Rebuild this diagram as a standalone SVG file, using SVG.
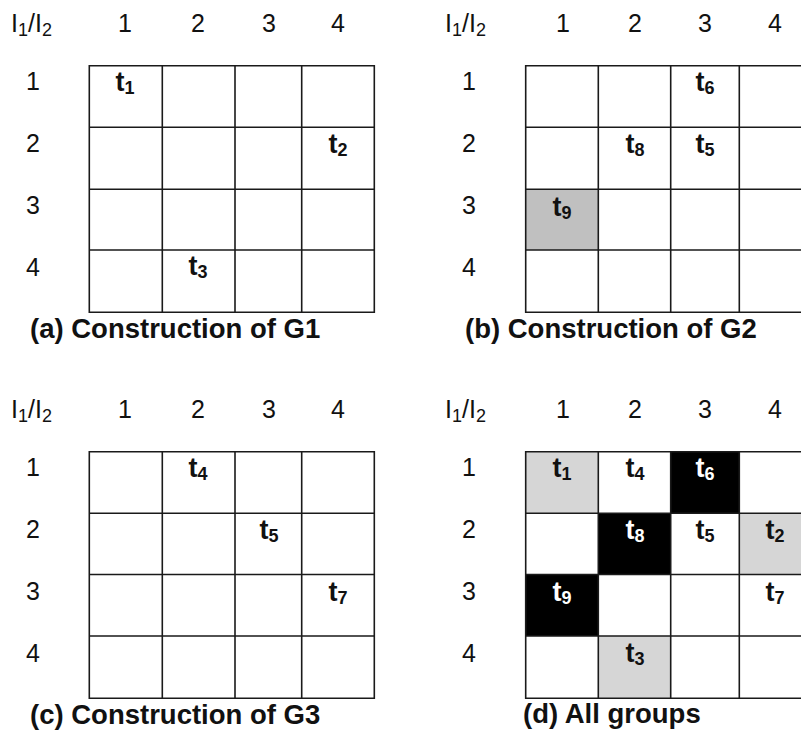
<svg xmlns="http://www.w3.org/2000/svg" width="801" height="733" viewBox="0 0 801 733">
<style>
.lab{font-family:"Liberation Sans",Arial,sans-serif;font-size:25px;fill:#111;text-anchor:middle}
.hd{font-family:"Liberation Sans",Arial,sans-serif;font-size:25px;fill:#111}
.sub{font-size:18px}
.t{font-family:"Liberation Sans",Arial,sans-serif;font-size:27px;font-weight:bold;fill:#111;text-anchor:middle}
.tw{font-family:"Liberation Sans",Arial,sans-serif;font-size:27px;font-weight:bold;fill:#fff;text-anchor:middle}
.ts{font-size:18px}
.cap{font-family:"Liberation Sans",Arial,sans-serif;font-size:27.5px;font-weight:bold;fill:#111}
.grid{fill:none;stroke:#1a1a1a;stroke-width:1.6}
</style>
<rect width="801" height="733" fill="#fff"/>

<g id="panel-a">
  <text class="hd" x="11" y="32">I<tspan class="sub" dy="4">1</tspan><tspan dy="-4">/I</tspan><tspan class="sub" dy="4">2</tspan></text>
  <text class="lab" x="125" y="32">1</text><text class="lab" x="198" y="32">2</text><text class="lab" x="269" y="32">3</text><text class="lab" x="338" y="32">4</text>
  <text class="lab" x="33" y="90">1</text><text class="lab" x="33" y="152">2</text><text class="lab" x="33" y="214">3</text><text class="lab" x="33" y="276">4</text>
  <path class="grid" d="M89.3 65.7H374.3V312.3H89.3Z M162.3 65.7V312.3 M235 65.7V312.3 M301.7 65.7V312.3 M89.3 127.3H374.3 M89.3 189.3H374.3 M89.3 250H374.3"/>
  <text class="t" x="125" y="91">t<tspan class="ts" dy="3">1</tspan></text>
  <text class="t" x="338" y="153">t<tspan class="ts" dy="3">2</tspan></text>
  <text class="t" x="198" y="275">t<tspan class="ts" dy="3">3</tspan></text>
  <text class="cap" x="30" y="338">(a) Construction of G1</text>
</g>

<g id="panel-b">
  <text class="hd" x="445" y="32">I<tspan class="sub" dy="4">1</tspan><tspan dy="-4">/I</tspan><tspan class="sub" dy="4">2</tspan></text>
  <text class="lab" x="563" y="32">1</text><text class="lab" x="635" y="32">2</text><text class="lab" x="705" y="32">3</text><text class="lab" x="775" y="32">4</text>
  <text class="lab" x="469" y="90">1</text><text class="lab" x="469" y="152">2</text><text class="lab" x="469" y="214">3</text><text class="lab" x="469" y="276">4</text>
  <rect x="525.7" y="189.3" width="72.6" height="60.7" fill="#c0c0c0"/>
  <path class="grid" d="M812 65.7H525.7V312.3H812 M598.3 65.7V312.3 M670.7 65.7V312.3 M739.3 65.7V312.3 M525.7 127.3H812 M525.7 189.3H812 M525.7 250H812"/>
  <text class="t" x="705" y="91">t<tspan class="ts" dy="3">6</tspan></text>
  <text class="t" x="635" y="153">t<tspan class="ts" dy="3">8</tspan></text>
  <text class="t" x="705" y="153">t<tspan class="ts" dy="3">5</tspan></text>
  <text class="t" x="562" y="216">t<tspan class="ts" dy="3">9</tspan></text>
  <text class="cap" x="465" y="338">(b) Construction of G2</text>
</g>

<g id="panel-c">
  <text class="hd" x="11" y="418">I<tspan class="sub" dy="4">1</tspan><tspan dy="-4">/I</tspan><tspan class="sub" dy="4">2</tspan></text>
  <text class="lab" x="125" y="418">1</text><text class="lab" x="198" y="418">2</text><text class="lab" x="269" y="418">3</text><text class="lab" x="338" y="418">4</text>
  <text class="lab" x="33" y="476">1</text><text class="lab" x="33" y="538">2</text><text class="lab" x="33" y="600">3</text><text class="lab" x="33" y="662">4</text>
  <path class="grid" d="M89.3 451.7H374.3V698.3H89.3Z M162.3 451.7V698.3 M235 451.7V698.3 M301.7 451.7V698.3 M89.3 513.3H374.3 M89.3 574.5H374.3 M89.3 636H374.3"/>
  <text class="t" x="198" y="477">t<tspan class="ts" dy="3">4</tspan></text>
  <text class="t" x="269" y="539">t<tspan class="ts" dy="3">5</tspan></text>
  <text class="t" x="338" y="601">t<tspan class="ts" dy="3">7</tspan></text>
  <text class="cap" x="30" y="724">(c) Construction of G3</text>
</g>

<g id="panel-d">
  <text class="hd" x="445" y="418">I<tspan class="sub" dy="4">1</tspan><tspan dy="-4">/I</tspan><tspan class="sub" dy="4">2</tspan></text>
  <text class="lab" x="563" y="418">1</text><text class="lab" x="635" y="418">2</text><text class="lab" x="705" y="418">3</text><text class="lab" x="775" y="418">4</text>
  <text class="lab" x="469" y="476">1</text><text class="lab" x="469" y="538">2</text><text class="lab" x="469" y="600">3</text><text class="lab" x="469" y="662">4</text>
  <rect x="525.7" y="451.7" width="72.6" height="61.6" fill="#d6d6d6"/>
  <rect x="670.7" y="451.7" width="68.6" height="61.6" fill="#000"/>
  <rect x="598.3" y="513.3" width="72.4" height="61.2" fill="#000"/>
  <rect x="739.3" y="513.3" width="72" height="61.2" fill="#d6d6d6"/>
  <rect x="525.7" y="574.5" width="72.6" height="61.5" fill="#000"/>
  <rect x="598.3" y="636" width="72.4" height="62.3" fill="#d6d6d6"/>
  <path class="grid" d="M812 451.7H525.7V698.3H812 M598.3 451.7V698.3 M670.7 451.7V698.3 M739.3 451.7V698.3 M525.7 513.3H812 M525.7 574.5H812 M525.7 636H812"/>
  <text class="t" x="562" y="477">t<tspan class="ts" dy="3">1</tspan></text>
  <text class="t" x="635" y="477">t<tspan class="ts" dy="3">4</tspan></text>
  <text class="tw" x="705" y="477">t<tspan class="ts" dy="3">6</tspan></text>
  <text class="tw" x="635" y="539">t<tspan class="ts" dy="3">8</tspan></text>
  <text class="t" x="705" y="539">t<tspan class="ts" dy="3">5</tspan></text>
  <text class="t" x="775" y="539">t<tspan class="ts" dy="3">2</tspan></text>
  <text class="tw" x="562" y="601">t<tspan class="ts" dy="3">9</tspan></text>
  <text class="t" x="775" y="601">t<tspan class="ts" dy="3">7</tspan></text>
  <text class="t" x="635" y="662">t<tspan class="ts" dy="3">3</tspan></text>
  <text class="cap" x="523" y="723">(d) All groups</text>
</g>
</svg>
